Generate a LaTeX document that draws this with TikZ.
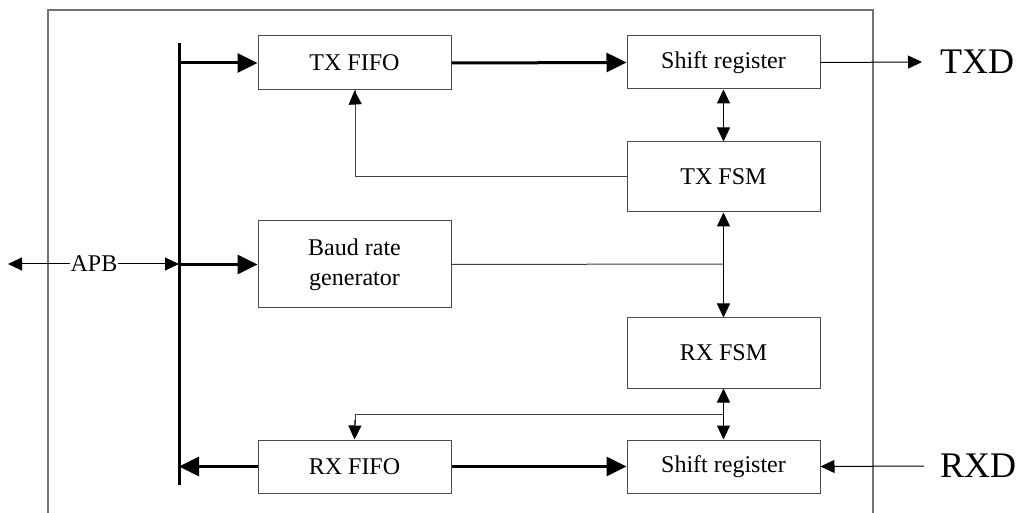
\documentclass[tikz,border=0pt]{standalone}
\usepackage{fontspec}
\setmainfont{Liberation Serif}
\usetikzlibrary{arrows.meta}
\begin{document}
\begin{tikzpicture}[x=1pt,y=-1pt,
  block/.style={draw=black!70,line width=1pt,minimum width=193pt,inner sep=0pt,
    font=\fontsize{24}{30}\selectfont,align=center},
  bus/.style={line width=3pt},
  thick arrow/.style={line width=3pt,-{Triangle[length=20pt,width=19pt]}},
  thin arrow/.style={line width=1pt,-{Triangle[length=14pt,width=13pt]}},
  thin both/.style={line width=1pt,{Triangle[length=14pt,width=13pt]}-{Triangle[length=14pt,width=13pt]}},
  link/.style={line width=1pt,draw=black!75},
  port/.style={font=\fontsize{36}{40}\selectfont,inner sep=0pt,anchor=west},
  frame/.style={line width=1.2pt,draw=black!55}]
\useasboundingbox (0,0) rectangle (1021,513);
\fill[white] (0,0) rectangle (1021,513);

% enclosing module outline (open at the bottom)
\draw[frame] (48,513) -- (48,10) -- (873,10) -- (873,513);

% blocks
\node[block,minimum height=54pt] (txfifo) at (354.5,63) {TX FIFO};
\node[block,minimum height=53pt] (txsr) at (723.5,62.5) {Shift register};
\node[block,minimum height=70pt] (txfsm) at (723.5,177) {TX FSM};
\node[block,minimum height=87pt] (baud) at (354.5,264.5) {Baud rate\\generator};
\node[block,minimum height=70pt] (rxfsm) at (723.5,353) {RX FSM};
\node[block,minimum height=53pt] (rxfifo) at (354.5,466.5) {RX FIFO};
\node[block,minimum height=53pt] (rxsr) at (723.5,466.5) {Shift register};

% external ports
\node[port] (txd) at (940,62) {TXD};
\node[port] (rxd) at (940,466) {RXD};

% internal bus
\coordinate (bustop) at (179,43);
\coordinate (busbot) at (179,485);
\draw[bus] (bustop) -- (busbot);

% APB interface
\coordinate (apbL) at (8,264);
\coordinate (apbR) at (179,264);
\draw[thin both] (apbL) -- (apbR);
\node[fill=white,inner sep=1pt,font=\fontsize{24}{28}\selectfont] (apb) at (94,264) {APB};

% wide data paths
\draw[thick arrow] (179,63) -- (txfifo.west);
\draw[thick arrow] (txfifo.east) -- (txsr.west);
\draw[thick arrow] (179,264.5) -- (baud.west);
\draw[thick arrow] (rxfifo.west) -- (179,466.5);
\draw[thick arrow] (rxfifo.east) -- (rxsr.west);

% serial lines
\draw[thin arrow] (txsr.east) -- ([xshift=-18pt]txd.west);
\draw[thin arrow] ([xshift=-16pt]rxd.west) -- (rxsr.east);

% control paths
\draw[thin both] (txsr.south) -- (txfsm.north);
\draw[link] (txfsm.west) -| (355,90);
\draw[thin arrow] (355,100) -- (txfifo.south);
\coordinate (tick) at (723.5,264);
\draw[link] (baud.east) -- (tick);
\draw[thin both] (txfsm.south) -- (rxfsm.north);
\coordinate (split) at (723.5,414);
\draw[thin both] (rxfsm.south) -- (rxsr.north);
\draw[link] (split) -| (355,425);
\draw[thin arrow] (355,420) -- (rxfifo.north);
\end{tikzpicture}
\end{document}
